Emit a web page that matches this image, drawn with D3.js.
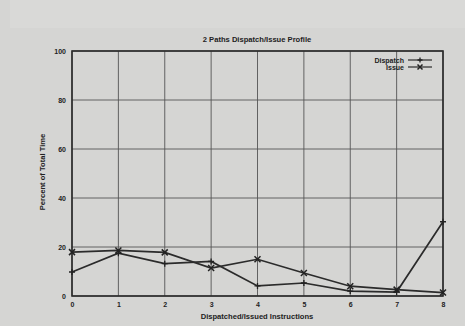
<!DOCTYPE html>
<html>
<head>
<meta charset="utf-8">
<script src="https://cdn.jsdelivr.net/npm/d3@7"></script>
<style>
  body { margin: 0; background: #d6d6d4; }
  svg { display: block; font-family: "Liberation Sans", Arial, sans-serif; }
  .axis text { font-size: 7px; font-weight: bold; fill: #222; }
</style>
</head>
<body>
<figure id="chart" style="margin:0"></figure>
<script>
// values
const instructions = [0, 1, 2, 3, 4, 5, 6, 7, 8];
const dispatch = [9.8, 17.5, 13.2, 14.1, 4.1, 5.3, 2.0, 1.6, 30.3];
const issue = [17.9, 18.6, 17.8, 11.4, 15.0, 9.4, 4.0, 2.6, 1.4];
const yTicks = [0, 20, 40, 60, 80, 100];
const seriesNames = ["Dispatch", "Issue"];

const width = 465, height = 326;
const plotLeft = 72, plotRight = 443, plotTop = 51, plotBottom = 296;

const svg = d3.select("#chart")
  .append("svg")
  .attr("width", width)
  .attr("height", height);

// paper-ish background
svg.append("rect").attr("width", width).attr("height", height).attr("fill", "#d5d5d3");
svg.append("rect").attr("x", 10).attr("y", 0).attr("width", width - 10).attr("height", 28).attr("fill", "#d9d9d7");

const x = d3.scaleLinear().domain([0, 8]).range([plotLeft, plotRight]);
const y = d3.scaleLinear().domain([0, 100]).range([plotBottom, plotTop]);

// grid
svg.append("g")
  .selectAll("line")
  .data(instructions)
  .enter()
  .append("line")
  .attr("x1", d => x(d)).attr("x2", d => x(d))
  .attr("y1", plotTop).attr("y2", plotBottom)
  .attr("stroke", "#555").attr("stroke-width", 0.9);

svg.append("g")
  .selectAll("line")
  .data(yTicks)
  .enter()
  .append("line")
  .attr("x1", plotLeft).attr("x2", plotRight)
  .attr("y1", d => y(d)).attr("y2", d => y(d))
  .attr("stroke", "#555").attr("stroke-width", 0.9);

// frame
svg.append("rect")
  .attr("x", plotLeft).attr("y", plotTop)
  .attr("width", plotRight - plotLeft).attr("height", plotBottom - plotTop)
  .attr("fill", "none").attr("stroke", "#2a2a2a").attr("stroke-width", 1.6);

// axes (labels only, the frame draws the lines)
const xAxis = svg.append("g")
  .attr("class", "axis")
  .attr("transform", "translate(0," + plotBottom + ")")
  .call(d3.axisBottom(x).tickValues(instructions).tickFormat(d3.format("d")).tickSize(0).tickPadding(6));
xAxis.select(".domain").remove();

const yAxis = svg.append("g")
  .attr("class", "axis")
  .attr("transform", "translate(" + plotLeft + ",0)")
  .call(d3.axisLeft(y).tickValues(yTicks).tickSize(0).tickPadding(6));
yAxis.select(".domain").remove();

// titles
svg.append("text")
  .attr("x", 257).attr("y", 42)
  .attr("text-anchor", "middle")
  .style("font-size", "7.6px").style("font-weight", "bold").attr("fill", "#222")
  .text("2 Paths Dispatch/Issue Profile");

svg.append("text")
  .attr("x", 257).attr("y", 319)
  .attr("text-anchor", "middle")
  .style("font-size", "7.6px").style("font-weight", "bold").attr("fill", "#222")
  .text("Dispatched/Issued Instructions");

svg.append("text")
  .attr("transform", "translate(45,172)rotate(-90)")
  .attr("text-anchor", "middle")
  .style("font-size", "7.6px").style("font-weight", "bold").attr("fill", "#222")
  .text("Percent of Total Time");

// lines
const line = d3.line().x((d, i) => x(instructions[i])).y(d => y(d));

function plusMark(g, px, py, s) {
  g.append("path")
    .attr("d", "M" + (px - s) + "," + py + "H" + (px + s) + "M" + px + "," + (py - s) + "V" + (py + s))
    .attr("stroke", "#222").attr("stroke-width", 1.3).attr("fill", "none");
}
function crossMark(g, px, py, s) {
  g.append("path")
    .attr("d", "M" + (px - s) + "," + (py - s) + "L" + (px + s) + "," + (py + s) +
               "M" + (px - s) + "," + (py + s) + "L" + (px + s) + "," + (py - s))
    .attr("stroke", "#222").attr("stroke-width", 1.5).attr("fill", "none");
}

svg.append("path")
  .datum(dispatch)
  .attr("d", line)
  .attr("fill", "none").attr("stroke", "#2b2b2b").attr("stroke-width", 1.7);

svg.append("path")
  .datum(issue)
  .attr("d", line)
  .attr("fill", "none").attr("stroke", "#2b2b2b").attr("stroke-width", 1.7);

const marks = svg.append("g");
dispatch.forEach((d, i) => plusMark(marks, x(instructions[i]), y(d), 3));
issue.forEach((d, i) => crossMark(marks, x(instructions[i]), y(d), 3));

// legend
const legend = svg.append("g");
seriesNames.forEach((name, i) => {
  const ly = 60 + i * 7;
  legend.append("text")
    .attr("x", 404).attr("y", ly + 2.5)
    .attr("text-anchor", "end")
    .style("font-size", "7px").style("font-weight", "bold").attr("fill", "#222")
    .text(name);
  legend.append("line")
    .attr("x1", 408).attr("x2", 432).attr("y1", ly).attr("y2", ly)
    .attr("stroke", "#2b2b2b").attr("stroke-width", 1.2);
  if (i === 0) plusMark(legend, 420, ly, 2.5);
  else crossMark(legend, 420, ly, 2.5);
});
</script>
</body>
</html>
